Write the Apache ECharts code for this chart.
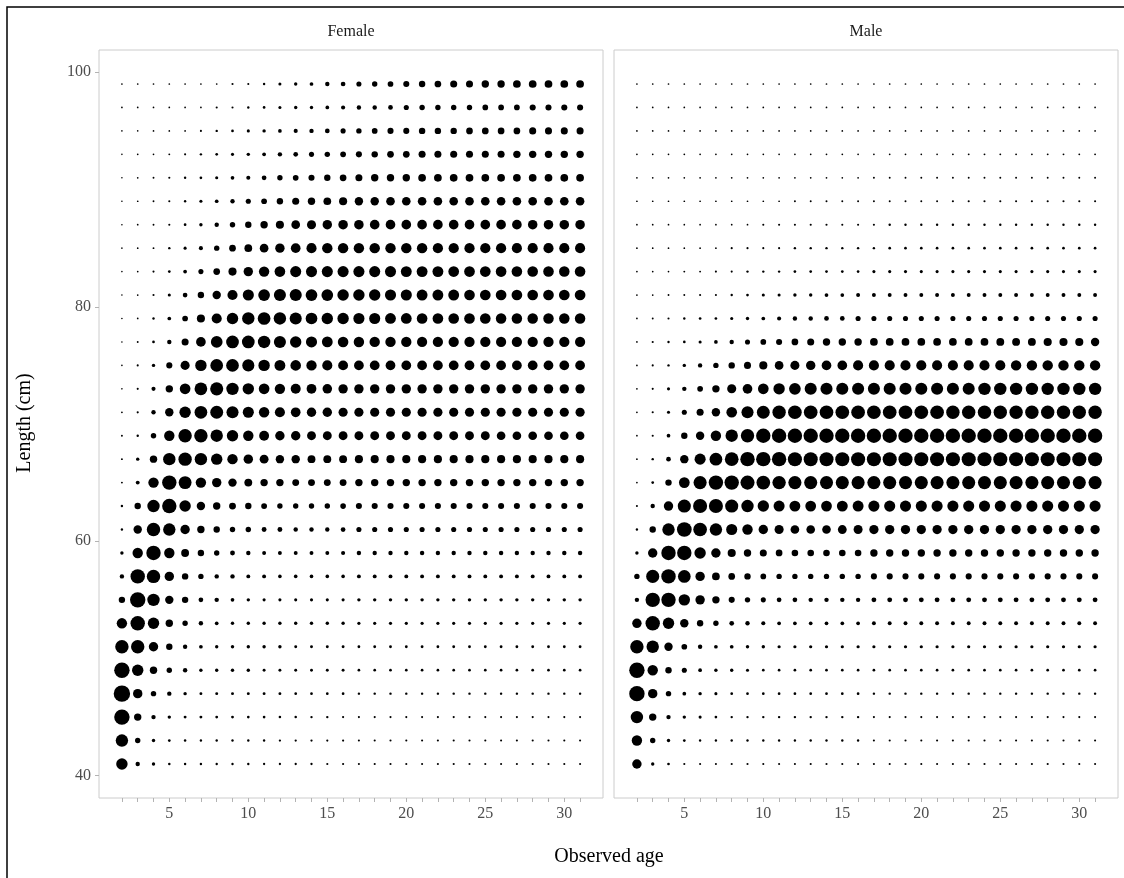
<!DOCTYPE html>
<html>
<head>
<meta charset="utf-8">
<script src="https://cdn.jsdelivr.net/npm/echarts@6/dist/echarts.min.js"></script>
<style>
  html, body { margin: 0; padding: 0; background: #ffffff; }
  #chart { width: 1124px; height: 878px; }
</style>
</head>
<body>
<div id="chart"></div>
<script>
// Observed age classes (x) and 2 cm length bins (y)
const ages = [2,3,4,5,6,7,8,9,10,11,12,13,14,15,16,17,18,19,20,21,22,23,24,25,26,27,28,29,30,31];
const lengths = [41,43,45,47,49,51,53,55,57,59,61,63,65,67,69,71,73,75,77,79,81,83,85,87,89,91,93,95,97,99];
const xTickLabels = [5,10,15,20,25,30];
const yTickLabels = [40,60,80,100];

// Relative frequency per (length bin, age); one row per length bin, ages 2..31 across
const femaleFreq = [
  [100,9,4,1.3,1,1,1,1,1,0.8,0.8,0.8,0.8,0.6,0.6,0.5,0.5,0.5,0.5,0.5,0.5,0.5,0.5,0.5,0.5,0.5,0.5,0.5,0.5,0.5],
  [121,16,4,1.7,1.3,1,1,1,1,1,0.8,0.8,0.8,0.6,0.6,0.5,0.5,0.5,0.5,0.5,0.5,0.5,0.5,0.5,0.5,0.5,0.5,0.5,0.5,0.5],
  [196,36,9,4,2.3,2.3,2,2,1.7,1.7,1.3,1.3,1,1,0.7,0.5,0.5,0.5,0.5,0.5,0.5,0.5,0.5,0.5,0.5,0.5,0.5,0.5,0.5,0.5],
  [225,64,16,9,4,2.3,2.3,2.3,2.3,2.3,2.3,1.7,1.7,1.7,1.7,1,1,1,1,1,1,1,1,1,1,1,1,1,1,1],
  [196,100,36,16,9,4,4,4,4,2.3,2.3,2.3,2.3,2.3,2.3,1.7,1.7,1.7,1.7,1.7,1.7,1.7,1.7,1.7,1.7,1.7,1.7,1.7,1.7,1.7],
  [144,144,64,25,9,5.3,4,4,4,4,4,2.3,2.3,2.3,2.3,2,2,2,2,2,2,2,2,2,2,2,2,2,2,2],
  [81,169,100,36,16,9,5.3,4,4,4,4,4,4,4,4,3.2,3.2,3.2,3.2,3.2,3.2,3.2,3.2,3.2,3.2,3.2,3.2,3.2,3.2,3.2],
  [25,196,121,49,25,11,9,5.3,4,2.9,2.9,2.9,2.9,2.9,2.9,4,4,4,4,4,4,4,4,4,4,4,4,4,4,4],
  [9,169,144,64,25,16,9,9,6.3,6.3,5,5,5,5,5,6.3,6.3,6.3,6.3,6.3,6.3,6.3,6.3,6.3,6.3,6.3,6.3,6.3,6.3,6.3],
  [4,81,169,81,42,25,16,12,9,6.3,6.3,6.3,6.3,6.3,7.3,9,9,9,9,9,9,9,9,9,9,9,9,9,9,9],
  [1,49,144,121,64,36,25,16,16,12,12,9,9,9,11,14,14,14,14,14,14,14,14,14,14,14,14,14,14,14],
  [1,25,121,169,100,49,36,30,25,20,16,16,16,16,18,22,22,22,22,22,22,22,22,22,22,22,22,22,22,22],
  [0.25,6.3,81,169,132,81,64,49,42,36,36,30,30,30,30,36,36,36,36,36,36,36,36,36,36,36,36,36,36,36],
  [0.25,4,36,121,144,121,100,81,64,56,49,49,42,42,42,45,45,45,45,45,45,45,45,45,45,45,45,45,45,45],
  [0.25,1,16,81,144,144,121,100,81,72,64,64,56,56,56,56,56,56,56,56,56,56,56,56,53,53,53,53,53,53],
  [0.16,0.64,9,49,100,128,132,114,94,81,76,69,64,64,60,60,60,60,60,60,60,60,60,60,60,60,60,60,60,60],
  [0.04,0.5,7.3,36,86,128,137,121,100,86,80,74,70,66,64,64,64,64,64,64,64,64,64,64,64,64,64,64,64,64],
  [0.04,0.5,4,22,59,100,128,128,114,100,90,84,80,76,72,70,70,70,70,70,70,70,70,70,70,70,70,70,70,70],
  [0.04,0.25,1.7,9,32,69,106,128,128,121,114,100,94,88,84,82,80,80,80,78,78,78,78,78,78,78,78,78,78,78],
  [0.04,0.1,1,5.3,18.5,45,76,100,121,128,121,114,106,100,100,94,94,88,88,85,85,85,85,85,82,82,82,82,82,82],
  [0.04,0.1,0.5,2.9,11,25,49,76,94,106,114,114,106,106,100,100,100,94,94,90,90,90,86,86,86,86,86,86,86,86],
  [0.04,0.1,0.5,1.7,5.3,14,28,45,64,81,86,94,94,94,94,94,94,94,90,90,90,86,86,86,86,84,84,84,84,84],
  [0.04,0.1,0.25,1,2.9,7.3,16,28,40,53,64,69,76,81,81,81,81,81,81,81,78,78,78,78,78,76,76,76,76,76],
  [0.04,0.1,0.25,0.5,1.7,4,9,16,25,36,45,53,59,64,66,66,68,68,68,68,68,68,68,68,68,68,66,66,66,66],
  [0.04,0.1,0.25,0.5,1,2.9,5.3,9,14,18.5,25,32,36,40,45,49,49,52,52,52,52,52,52,52,52,52,52,52,52,52],
  [0.04,0.1,0.25,0.5,1,1.7,2.9,5.3,7.3,11,16,18.5,22,25,28,32,36,36,36,40,40,40,40,40,40,40,40,40,40,40],
  [0.04,0.1,0.1,0.25,0.5,1,1.7,2.9,4,5.3,9,11,14,16,18.5,22,25,28,28,32,32,32,32,32,32,36,36,36,36,36],
  [0.04,0.04,0.1,0.1,0.1,0.5,1,1.7,2.9,4,5.3,7.3,9,11,14,16,18.5,22,22,25,25,25,28,28,28,28,32,32,32,32],
  [0.1,0.1,0.1,0.1,0.1,0.1,0.5,0.5,1,1.7,2.9,4,4,5.3,7.3,9,9,11,14,16,16,16,16,18.5,18.5,18.5,22,22,22,22],
  [0.1,0.1,0.1,0.1,0.1,0.1,0.1,0.5,0.5,1,2.9,4,5.3,9,11,14,16,18.5,22,25,28,32,32,36,36,40,40,40,40,40]
];

const maleFreq = [
  [64,4,1.7,0.5,0.5,0.5,0.5,0.5,0.5,0.5,0.5,0.5,0.5,0.5,0.5,0.5,0.5,0.5,0.5,0.5,0.5,0.5,0.5,0.5,0.5,0.5,0.5,0.5,0.5,0.5],
  [81,16,4,1.7,1,1,1,1,1,1,1,1,1,1,1,0.5,0.5,0.5,0.5,0.5,0.5,0.5,0.5,0.5,0.5,0.5,0.5,0.5,0.5,0.5],
  [121,36,9,4,2.9,1.7,1,1,1,1,1,1,1,1,1,0.5,0.5,0.5,0.5,0.5,0.5,0.5,0.5,0.5,0.5,0.5,0.5,0.5,0.5,0.5],
  [196,64,16,5.3,4,2.9,1.7,1.7,1.7,1.7,1.7,1.7,1.7,1.7,1.7,1,1,1,1,1,1,1,1,1,1,1,1,1,1,1],
  [196,81,25,13.7,5.3,4,4,2.9,1.7,1.7,1.7,1.7,1.7,1.7,1.7,1.7,1.7,1.7,1.7,1.7,1.7,1.7,1.7,1.7,1.7,1.7,1.7,1.7,1.7,1.7],
  [144,121,49,18.5,9,5.3,5.3,4,4,3.2,3.2,3.2,3.2,3.2,3.2,3.2,3.2,3.2,3.2,3.2,3.2,3.2,3.2,3.2,3.2,3.2,3.2,3.2,3.2,3.2],
  [64,169,100,49,25,16,11,9,7.3,5.3,5.3,5.3,5.3,5.3,5.3,6.3,6.3,6.3,6.3,6.3,6.3,6.3,6.3,6.3,6.3,6.3,6.3,6.3,6.3,6.3],
  [9,169,169,100,64,36,22,16,13.7,11,11,9,9,9,9,12,12,12,12,12,12,12,12,12,12,12,12,12,12,12],
  [16,137,169,128,64,40,28,25,18.5,16,16,16,16,16,16,22,22,22,22,22,22,22,22,22,22,22,22,22,22,22],
  [4,64,169,169,100,64,45,36,32,28,27,27,27,27,27,36,36,36,36,36,36,36,36,36,36,36,36,36,36,36],
  [1,25,121,177,151,121,94,81,64,59,53,52,52,55,58,62,62,62,62,62,62,62,62,62,62,62,62,62,62,62],
  [0.5,9,64,137,161,161,137,121,100,94,90,88,88,90,92,95,95,95,95,95,95,95,95,95,95,95,95,95,95,95],
  [0.1,1.7,25,86,137,169,169,161,151,144,137,137,137,137,137,137,137,137,137,137,137,137,137,137,137,137,137,137,137,137],
  [0.1,1,11,49,94,128,151,169,169,169,161,161,161,161,161,161,161,161,161,161,161,161,161,161,161,161,161,161,161,161],
  [0.1,0.5,5.3,25,49,81,121,144,169,169,169,169,169,169,169,169,169,169,169,169,169,169,169,169,169,169,169,169,169,169],
  [0.1,0.5,2.9,13.7,32,49,86,114,132,144,151,151,151,151,151,151,151,151,151,151,144,144,144,144,144,144,144,144,144,144],
  [0.1,0.5,2.9,9,18.5,36,59,69,86,100,106,114,114,114,114,114,114,114,114,114,114,114,121,121,121,121,121,121,121,121],
  [0.1,0.5,1,4,9,16,25,32,45,53,59,64,69,69,76,76,76,76,76,76,76,76,76,76,81,81,81,81,81,81],
  [0.1,0.5,1,1.7,2.9,5.3,9,13.7,18.5,22,28,32,36,36,36,40,40,40,40,40,40,40,40,42,42,42,45,45,45,49],
  [0.1,0.25,0.5,1,1.7,1.7,2.9,4,5.3,7.3,9,9,11,11,13.7,13.7,13.7,13.7,13.7,13.7,13.7,13.7,13.7,13.7,13.7,13.7,13.7,13.7,13.7,13.7],
  [0.1,0.1,0.25,0.25,0.5,0.5,1,1.7,2.9,2.9,4,4,5.3,5.3,6.3,6.3,6.3,6.3,6.3,6.3,6.3,6.3,6.3,6.3,6.3,6.3,6.3,6.3,6.3,6.3],
  [0.1,0.1,0.1,0.25,0.25,0.5,0.5,1,1,1,1.7,1.7,1.7,1.7,1.7,2.9,2.9,2.9,2.9,2.9,2.9,2.9,2.9,2.9,2.9,2.9,2.9,2.9,2.9,2.9],
  [0.1,0.1,0.1,0.1,0.1,0.1,0.5,0.5,0.5,0.5,1,1,1,1,1,1,1.7,1.7,1.7,1.7,1.7,1.7,1.7,1.7,1.7,1.7,1.7,1.7,1.7,1.7],
  [0.1,0.1,0.1,0.1,0.1,0.1,0.1,0.1,0.5,0.5,0.5,0.5,0.5,0.5,0.5,0.5,1,1,1,1,1,1,1,1,1,1,1,1,1,1],
  [0.1,0.1,0.1,0.1,0.1,0.1,0.1,0.1,0.1,0.1,0.3,0.3,0.3,0.3,0.3,0.3,0.3,0.3,0.3,0.3,0.5,0.5,0.5,0.5,0.5,0.5,0.5,0.5,0.5,0.5],
  [0.1,0.1,0.1,0.1,0.1,0.1,0.1,0.1,0.1,0.1,0.1,0.1,0.1,0.1,0.1,0.25,0.25,0.25,0.25,0.25,0.25,0.25,0.25,0.25,0.25,0.25,0.25,0.25,0.25,0.25],
  [0.1,0.1,0.1,0.1,0.1,0.1,0.1,0.1,0.1,0.1,0.1,0.1,0.1,0.1,0.1,0.1,0.1,0.1,0.1,0.1,0.2,0.2,0.2,0.2,0.2,0.2,0.2,0.2,0.2,0.2],
  [0.1,0.1,0.1,0.1,0.1,0.1,0.1,0.1,0.1,0.1,0.1,0.1,0.1,0.1,0.1,0.1,0.1,0.1,0.1,0.1,0.1,0.1,0.1,0.1,0.1,0.1,0.1,0.1,0.1,0.1],
  [0.1,0.1,0.1,0.1,0.1,0.1,0.1,0.1,0.1,0.1,0.1,0.1,0.1,0.1,0.1,0.1,0.1,0.1,0.1,0.1,0.1,0.1,0.1,0.1,0.1,0.1,0.1,0.1,0.1,0.1],
  [0.1,0.1,0.1,0.1,0.1,0.1,0.1,0.1,0.1,0.1,0.1,0.1,0.1,0.1,0.1,0.1,0.1,0.1,0.1,0.1,0.1,0.1,0.1,0.1,0.1,0.1,0.1,0.1,0.1,0.1]
];

const SERIF = '"Liberation Serif", "DejaVu Serif", serif';

// Flatten a length x age matrix into [age, length, value] points
function toPoints(matrix) {
  const pts = [];
  matrix.forEach((row, i) => row.forEach((v, j) => pts.push([ages[j], lengths[i], v])));
  return pts;
}

// Area-proportional bubble size, with a small floor so empty cells still show a dot
const dotSize = d => 1.4 + Math.sqrt(d[2]);

const X_MIN = 0.55, X_MAX = 32.45;   // 2..31 padded by 5%
const Y_MIN = 38.1, Y_MAX = 101.9;   // 41..99 padded by 5%
const PANEL_TOP = 50, PANEL_H = 748, PANEL_W = 504;

function xAxisFor(gridIndex) {
  return {
    type: 'value', gridIndex, min: X_MIN, max: X_MAX,
    axisLine: { show: false, onZero: false },
    axisTick: { show: true, customValues: ages, length: 4, lineStyle: { color: '#b3b3b3', width: 1 } },
    axisLabel: { customValues: xTickLabels, color: '#4d4d4d', fontFamily: SERIF, fontSize: 16, margin: 8 },
    splitLine: { show: false }
  };
}

const option = {
  animation: false,
  backgroundColor: '#ffffff',
  grid: [
    { left: 99, top: PANEL_TOP, width: PANEL_W, height: PANEL_H, show: true, borderColor: '#cccccc', borderWidth: 1, backgroundColor: '#ffffff' },
    { left: 614, top: PANEL_TOP, width: PANEL_W, height: PANEL_H, show: true, borderColor: '#cccccc', borderWidth: 1, backgroundColor: '#ffffff' }
  ],
  xAxis: [xAxisFor(0), xAxisFor(1)],
  yAxis: [
    {
      type: 'value', gridIndex: 0, min: Y_MIN, max: Y_MAX,
      axisLine: { show: false, onZero: false },
      axisTick: { show: true, customValues: yTickLabels, length: 4, lineStyle: { color: '#b3b3b3', width: 1 } },
      axisLabel: { customValues: yTickLabels, color: '#4d4d4d', fontFamily: SERIF, fontSize: 16, margin: 8 },
      splitLine: { show: false }
    },
    {
      type: 'value', gridIndex: 1, min: Y_MIN, max: Y_MAX,
      axisLine: { show: false, onZero: false },
      axisTick: { show: false },
      axisLabel: { show: false },
      splitLine: { show: false }
    }
  ],
  series: [
    {
      name: 'Female', type: 'scatter', xAxisIndex: 0, yAxisIndex: 0,
      data: toPoints(femaleFreq), symbol: 'circle', symbolSize: dotSize,
      itemStyle: { color: '#000000', opacity: 1 }, silent: true
    },
    {
      name: 'Male', type: 'scatter', xAxisIndex: 1, yAxisIndex: 1,
      data: toPoints(maleFreq), symbol: 'circle', symbolSize: dotSize,
      itemStyle: { color: '#000000', opacity: 1 }, silent: true
    }
  ],
  graphic: [
    { type: 'rect', shape: { x: 7, y: 7, width: 1200, height: 1000 },
      style: { fill: null, stroke: '#000000', lineWidth: 1.5 }, silent: true },
    { type: 'text', x: 351, y: 32, style: { text: 'Female', font: '16px ' + SERIF, fill: '#1a1a1a', textAlign: 'center', textVerticalAlign: 'middle' } },
    { type: 'text', x: 866, y: 32, style: { text: 'Male', font: '16px ' + SERIF, fill: '#1a1a1a', textAlign: 'center', textVerticalAlign: 'middle' } },
    { type: 'text', x: 609, y: 857, style: { text: 'Observed age', font: '20px ' + SERIF, fill: '#000000', textAlign: 'center', textVerticalAlign: 'middle' } },
    { type: 'text', x: 25, y: 423, rotation: Math.PI / 2, style: { text: 'Length (cm)', font: '20px ' + SERIF, fill: '#000000', textAlign: 'center', textVerticalAlign: 'middle' } }
  ]
};

const chart = echarts.init(document.getElementById('chart'), null, { renderer: 'canvas' });
chart.setOption(option);
</script>
</body>
</html>
